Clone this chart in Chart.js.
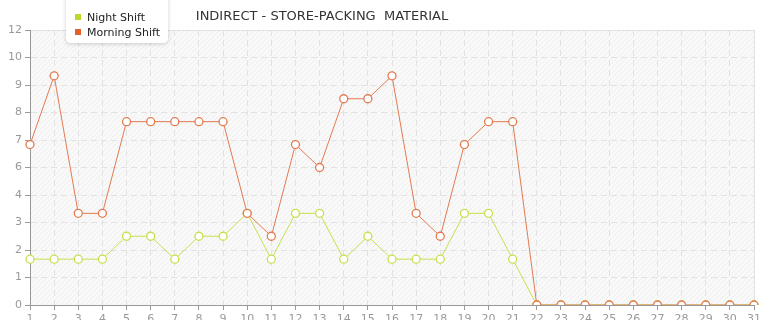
<!DOCTYPE html>
<html>
<head>
<meta charset="utf-8">
<script src="https://cdn.jsdelivr.net/npm/chart.js@4/dist/chart.umd.min.js"></script>
<style>
html,body{margin:0;padding:0;background:#fff;overflow:hidden;}
#wrap{width:765px;height:320px;overflow:hidden;position:relative;}
</style>
</head>
<body>
<div id="wrap"><canvas id="c" width="765" height="332"></canvas></div>
<script>
const chartTitle = "INDIRECT - STORE-PACKING  MATERIAL";
const days = ["1","2","3","4","5","6","7","8","9","10","11","12","13","14","15","16","17","18","19","20","21","22","23","24","25","26","27","28","29","30","31"];
const nightShift = [2,2,2,2,3,3,2,3,3,4,2,4,4,2,3,2,2,2,4,4,2,0,0,0,0,0,0,0,0,0,0];
const morningShift = [7,10,4,4,8,8,8,8,8,4,3,7,6,9,9,10,4,3,7,8,8,0,0,0,0,0,0,0,0,0,0];
const seriesNames = ["Night Shift","Morning Shift"];
const seriesColors = ["#c6e04e","#e27a50"];
const markerColors = ["#b9d92c","#e0622c"];
const yMax = 12;
const yStep = 1.2;

const FONT = "'DejaVu Sans', Verdana, sans-serif";

function makePattern(ctx){
  const p = document.createElement('canvas');
  p.width = 5; p.height = 5;
  const c = p.getContext('2d');
  c.fillStyle = '#f9f9f9';
  c.fillRect(0,0,5,5);
  c.strokeStyle = '#eeeeee';
  c.lineWidth = 1;
  c.beginPath();
  c.moveTo(-1,6); c.lineTo(6,-1);
  c.moveTo(-1,1); c.lineTo(1,-1);
  c.moveTo(4,6); c.lineTo(6,4);
  c.stroke();
  return ctx.createPattern(p,'repeat');
}

const bgPlugin = {
  id: 'bg',
  beforeDraw(chart){
    const {ctx, chartArea:a} = chart;
    ctx.save();
    ctx.fillStyle = makePattern(ctx);
    ctx.fillRect(a.left, a.top, a.right-a.left, a.bottom-a.top);
    ctx.strokeStyle = '#e0e0e0';
    ctx.lineWidth = 1;
    ctx.beginPath();
    ctx.moveTo(a.left, a.top+0.5); ctx.lineTo(a.right+0.5, a.top+0.5); ctx.lineTo(a.right+0.5, a.bottom);
    ctx.stroke();
    ctx.restore();
  },
  afterDraw(chart){
    const ctx = chart.ctx;
    ctx.save();
    // title
    ctx.font = "13px " + FONT;
    ctx.fillStyle = '#333';
    ctx.textAlign = 'center';
    ctx.textBaseline = 'middle';
    ctx.fillText(chartTitle, 322, 17);
    // legend box
    ctx.shadowColor = 'rgba(0,0,0,0.18)';
    ctx.shadowBlur = 4;
    ctx.shadowOffsetY = 1;
    ctx.fillStyle = '#fff';
    const x=66,y=-6,w=102,h=49,r=5;
    ctx.beginPath();
    ctx.moveTo(x+r,y); ctx.lineTo(x+w-r,y); ctx.quadraticCurveTo(x+w,y,x+w,y+r);
    ctx.lineTo(x+w,y+h-r); ctx.quadraticCurveTo(x+w,y+h,x+w-r,y+h);
    ctx.lineTo(x+r,y+h); ctx.quadraticCurveTo(x,y+h,x,y+h-r);
    ctx.lineTo(x,y+r); ctx.quadraticCurveTo(x,y,x+r,y);
    ctx.closePath(); ctx.fill();
    ctx.shadowColor = 'transparent';
    ctx.font = "11px " + FONT;
    ctx.textAlign = 'left';
    ctx.fillStyle = '#222';
    const ys = [17, 32];
    chart.data.datasets.forEach((ds, i) => {
      ctx.fillStyle = markerColors[i];
      ctx.fillRect(75, ys[i]-3, 6, 6);
      ctx.fillStyle = '#222';
      ctx.fillText(ds.label, 87, ys[i]+1);
    });
    ctx.restore();
  }
};

new Chart(document.getElementById('c'), {
  type: 'line',
  data: {
    labels: days,
    datasets: [
      { label: seriesNames[0], data: nightShift, borderColor: seriesColors[0], backgroundColor: '#fff',
        pointBorderColor: seriesColors[0], pointBackgroundColor: '#fff', borderWidth: 1, pointRadius: 4,
        pointBorderWidth: 1.3, tension: 0, order: 1 },
      { label: seriesNames[1], data: morningShift, borderColor: seriesColors[1], backgroundColor: '#fff',
        pointBorderColor: seriesColors[1], pointBackgroundColor: '#fff', borderWidth: 1, pointRadius: 4,
        pointBorderWidth: 1.3, tension: 0, order: 0 }
    ]
  },
  options: {
    responsive: false,
    animation: false,
    devicePixelRatio: 1,
    layout: { padding: { top: 30, left: 0, right: 11, bottom: 0 } },
    plugins: { legend: { display: false }, title: { display: false }, tooltip: { enabled: false } },
    scales: {
      x: {
        type: 'category',
        offset: false,
        grid: { color: '#e2e2e2', tickColor: '#999', tickLength: 5, drawOnChartArea: true },
        border: { display: true, color: '#999', width: 1, dash: [6,4] },
        ticks: { color: '#999', font: { size: 11, family: FONT }, padding: 3, maxRotation: 0, autoSkip: false },
        afterFit(s){ s.height = 27; }
      },
      y: {
        min: 0, max: yMax,
        grid: { color: '#e2e2e2', tickColor: '#999', tickLength: 5 },
        border: { display: true, color: '#999', width: 1, dash: [6,4] },
        ticks: { stepSize: yStep, color: '#999', font: { size: 11, family: FONT }, padding: 3,
          callback: v => String(Math.floor(v + 1e-6)) },
        afterFit(s){ s.width = 30; }
      }
    }
  },
  plugins: [bgPlugin]
});
</script>
</body>
</html>
